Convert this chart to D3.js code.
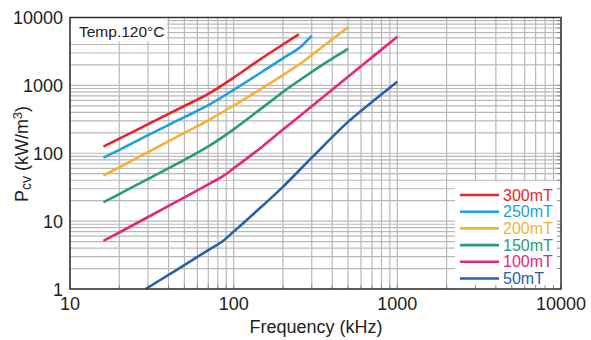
<!DOCTYPE html>
<html><head><meta charset="utf-8">
<script src="https://cdn.jsdelivr.net/npm/d3@7"></script>
<style>body{margin:0;background:#fff}svg{display:block;font-family:"Liberation Sans",Arial,Helvetica,sans-serif}</style>
</head><body><svg id="c" width="591" height="340"></svg>
<script>
// ---- data ----
const seriesNames = ["300mT","250mT","200mT","150mT","100mT","50mT"];
const seriesColors = ["#e3262b","#1ea0dc","#f3b233","#2b9a7c","#e02a7f","#2561a9"];
const s300 = [[16,125],[20,164],[30,268],[50,497],[70,750],[100,1300],[150,2550],[200,4000],[250,5650]];
const s250 = [[16,86],[20,112],[30,185],[50,340],[70,510],[100,860],[150,1600],[200,2500],[260,3800],[300,5400]];
const s200 = [[16,47],[20,62],[30,104],[50,200],[70,306],[100,505],[150,915],[200,1420],[260,2150],[350,3750],[500,7200]];
const s150 = [[16,19],[20,25],[30,42],[50,80],[70,126],[100,225],[150,470],[200,800],[250,1170],[350,2020],[500,3450]];
const s100 = [[16,5.1],[20,6.8],[30,11.5],[50,22.4],[70,34.8],[86,46],[100,60],[150,126],[200,223],[300,491],[500,1340],[700,2585],[1000,5200]];
const s50  = [[29,1],[50,2.25],[70,3.75],[86,5.1],[100,7.0],[150,16.8],[200,32],[300,86],[500,290],[700,570],[1000,1135]];
const seriesData = [s300,s250,s200,s150,s100,s50];
const xTicks = [10,100,1000,10000];
const yTicks = [1,10,100,1000,10000];
const xTitle = "Frequency (kHz)";
const tempLabel = "Temp.120°C";

// ---- layout ----
const L=70, R=561, T=17.5, B=289;
const svg = d3.select("#c");
const x = d3.scaleLog().domain([10,10000]).range([L,R]);
const y = d3.scaleLog().domain([1,10000]).range([B,T]);

function minors(lo,hi){const a=[];for(let d=lo;d<hi;d*=10)for(let k=1;k<10;k++)a.push(d*k);a.push(hi);return a;}
const xm = minors(10,10000), ym = minors(1,10000);

const g = svg.append("g");
// grid
g.selectAll(".vg").data(xm).join("line").attr("x1",d=>x(d)).attr("x2",d=>x(d)).attr("y1",T).attr("y2",B)
  .attr("stroke","#b9b9b9").attr("stroke-width",1.2);
g.selectAll(".hg").data(ym).join("line").attr("y1",d=>y(d)).attr("y2",d=>y(d)).attr("x1",L).attr("x2",R)
  .attr("stroke","#b9b9b9").attr("stroke-width",1.2);

// legend background & temp box
const legX=455, legY=181;
g.append("rect").attr("x",legX).attr("y",legY).attr("width",R-legX).attr("height",B-legY).attr("fill","#fff");
g.append("rect").attr("x",L).attr("y",T).attr("width",97).attr("height",24).attr("fill","#fff");
g.append("text").attr("x",79).attr("y",36.5).attr("font-size",15.5).attr("fill","#222").text(tempLabel);

// inward minor ticks
const tk=4;
g.selectAll(".tb").data(xm).join("line").attr("x1",d=>x(d)).attr("x2",d=>x(d)).attr("y1",B).attr("y2",B-tk).attr("stroke","#888");
g.selectAll(".tr").data(ym).join("line").attr("y1",d=>y(d)).attr("y2",d=>y(d)).attr("x1",R).attr("x2",R-tk).attr("stroke","#888");

// curves
const line = d3.line().x(d=>x(d[0])).y(d=>y(d[1])).curve(d3.curveMonotoneX);
seriesData.forEach((s,i)=>{
  g.append("path").attr("d",line(s)).attr("fill","none").attr("stroke",seriesColors[i]).attr("stroke-width",2.6);
});

// frame
g.append("rect").attr("x",L).attr("y",T).attr("width",R-L).attr("height",B-T).attr("fill","none").attr("stroke","#333").attr("stroke-width",1.5);

// axes labels
g.selectAll(".xl").data(xTicks).join("text").attr("x",d=>x(d)).attr("y",310).attr("text-anchor","middle")
  .attr("font-size",18).attr("fill","#222").text(d=>d);
g.selectAll(".yl").data(yTicks).join("text").attr("x",63).attr("y",d=>y(d)+6.5).attr("text-anchor","end")
  .attr("font-size",18).attr("fill","#222").text(d=>d);
g.append("text").attr("x",316).attr("y",333).attr("text-anchor","middle").attr("font-size",18).attr("fill","#222").text(xTitle);
const yt = g.append("text").attr("transform","translate(28,154) rotate(-90)").attr("text-anchor","middle").attr("font-size",18).attr("fill","#222");
yt.append("tspan").text("P");
yt.append("tspan").attr("font-size",14).attr("dy",3).text("cv");
yt.append("tspan").attr("dy",-3).text(" (kW/m");
yt.append("tspan").attr("font-size",13).attr("dy",-6).text("3");
yt.append("tspan").attr("dy",6).text(")");

// legend entries
seriesNames.forEach((n,i)=>{
  const yy = 195 + i*16.7;
  g.append("line").attr("x1",460).attr("x2",499).attr("y1",yy).attr("y2",yy).attr("stroke",seriesColors[i]).attr("stroke-width",2.6);
  g.append("text").attr("x",503).attr("y",yy+5.5).attr("font-size",16).attr("fill",seriesColors[i]).text(n);
});
</script></body></html>
